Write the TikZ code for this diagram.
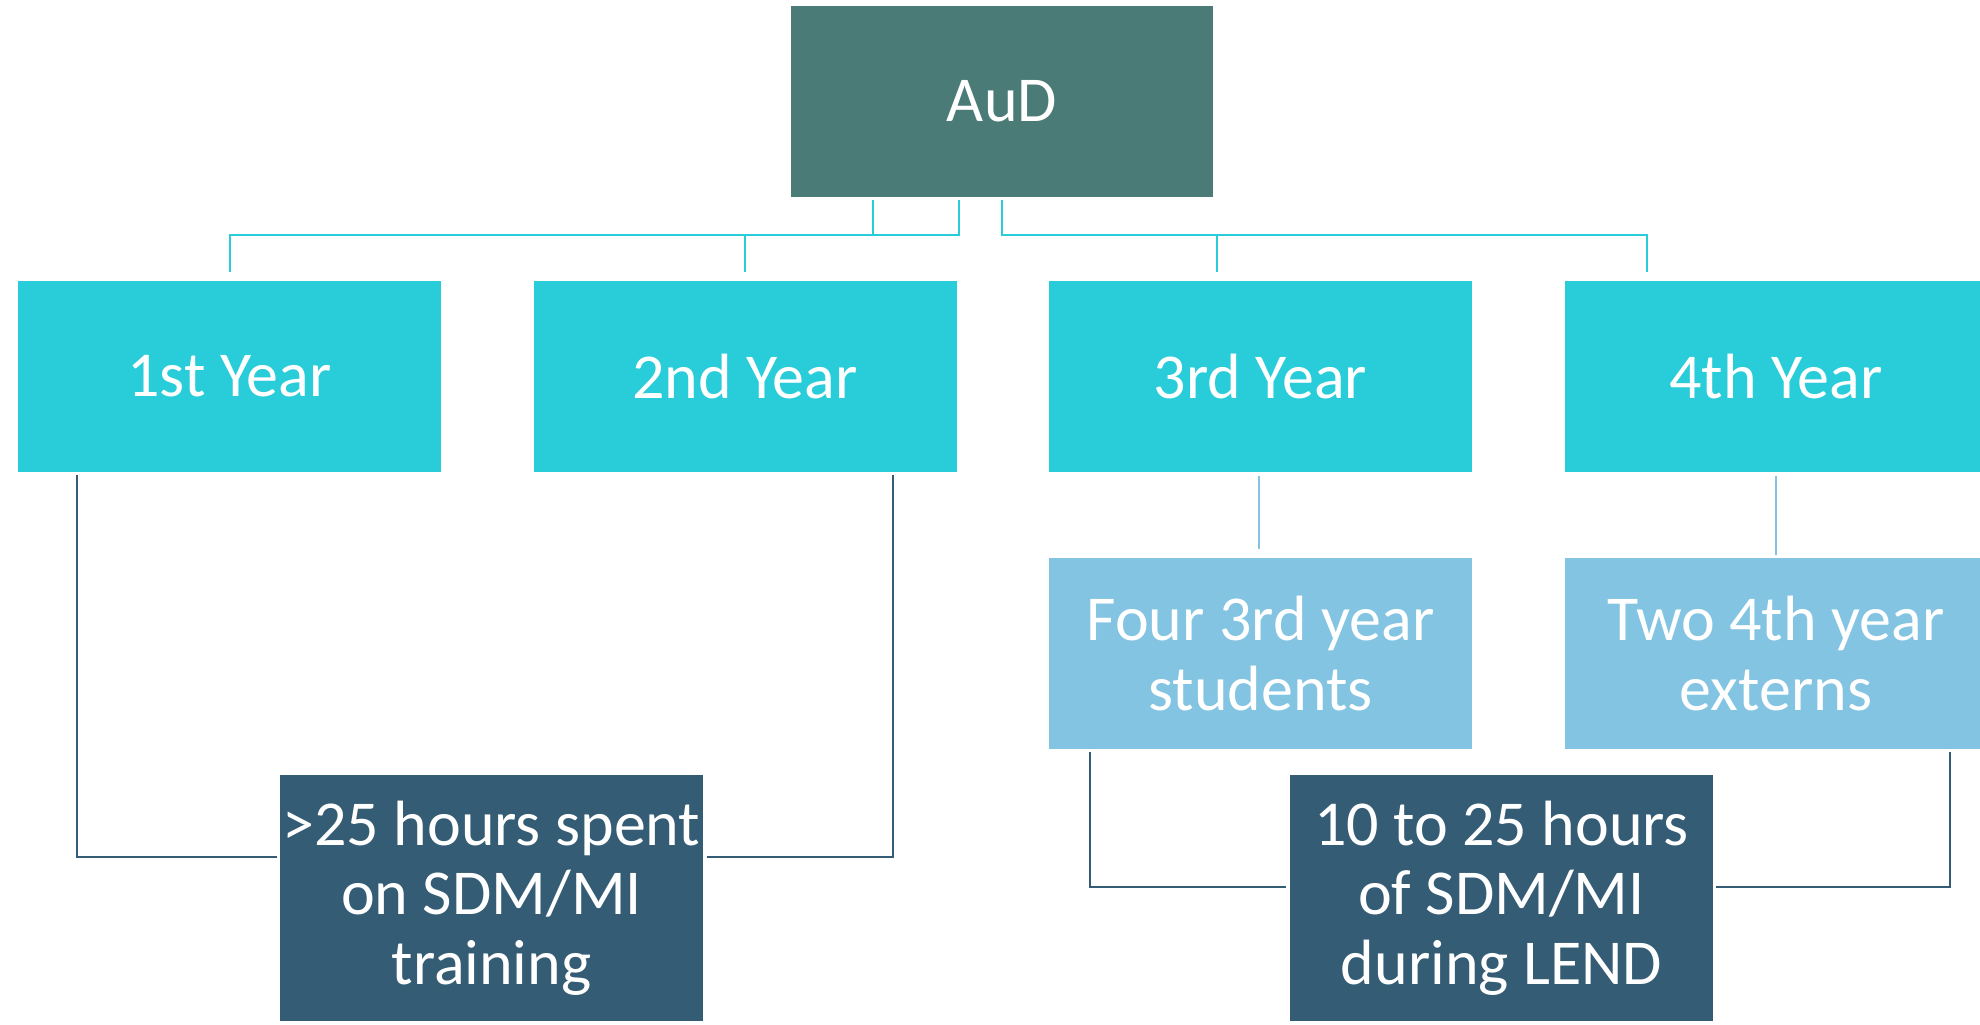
\documentclass[tikz,border=0pt]{standalone}
\usepackage{fontspec}
\setmainfont{Carlito}
\usetikzlibrary{calc,positioning}
\definecolor{audteal}{HTML}{4A7B77}
\definecolor{yearcyan}{HTML}{29CDD9}
\definecolor{paleblue}{HTML}{82C4E2}
\definecolor{slate}{HTML}{345C74}

\begin{document}
\begin{tikzpicture}[x=0.4pt,y=-0.4pt,font=\fontsize{25.6}{27.8}\selectfont,node distance=34pt and 36.6pt,
  boxbase/.style={inner sep=0pt,minimum width=169.2pt,minimum height=76.4pt,align=center,text=white},
  topbox/.style={boxbase,fill=audteal,minimum width=168.8pt},
  yearbox/.style={boxbase,fill=yearcyan},
  groupbox/.style={boxbase,fill=paleblue},
  hoursbox/.style={boxbase,fill=slate,minimum height=98.4pt},
  cyanline/.style={draw=yearcyan,line width=0.8pt},
  paleline/.style={draw=paleblue,line width=0.8pt},
  slateline/.style={draw=slate,line width=0.8pt}]
\useasboundingbox (0,0) rectangle (1980,1025);
\fill[white] (0,0) rectangle (1980,1025);
\node[topbox] (aud) at (1002,101.5) {AuD};
\node[yearbox] (y1) at (229.5,376.5) {1st Year};
\node[yearbox,right=of y1] (y2) {2nd Year};
\node[yearbox,right=of y2] (y3) {3rd Year};
\node[yearbox,right=of y3] (y4) {4th Year};
\node[groupbox,below=of y3] (g3) {Four 3rd year\\students};
\node[groupbox,below=of y4] (g4) {Two 4th year\\externs};
\node[hoursbox] (h12) at (491.5,898) {>25 hours spent\\on SDM/MI\\training};
\node[hoursbox] (h34) at (1501.5,898) {10 to 25 hours\\of SDM/MI\\during LEND};
% AuD to the years
\draw[cyanline] ($(aud.south)+(-129,3)$) |- ($(y1.north)+(0,-45)$) -- ($(y1.north)+(0,-8)$);
\draw[cyanline] ($(aud.south)+(-43,3)$) |- ($(y2.north)+(0,-45)$) -- ($(y2.north)+(0,-8)$);
\draw[cyanline] ($(aud.south)+(0,3)$) |- ($(y3.north)+(-44,-45)$) -- ($(y3.north)+(-44,-8)$);
\draw[cyanline] ($(aud.south)+(0,3)$) |- ($(y4.north)+(-129,-45)$) -- ($(y4.north)+(-129,-8)$);
% years to groups
\draw[paleline] ($(y3.south)+(-2,3)$) -- ($(g3.north)+(-2,-9)$);
\draw[paleline] ($(y4.south)+(0,3)$) -- ($(g4.north)+(0,-3)$);
% to the hours
\draw[slateline] ($(y1.south)+(-152.5,2)$) |- ($(h12.west)+(-3,-41)$);
\draw[slateline] ($(y2.south)+(147.5,2)$) |- ($(h12.east)+(3,-41)$);
\draw[slateline] ($(g3.south)+(-170.5,2)$) |- ($(h34.west)+(-4,-11)$);
\draw[slateline] ($(g4.south)+(173.5,2)$) |- ($(h34.east)+(2,-11)$);
\end{tikzpicture}
\end{document}
